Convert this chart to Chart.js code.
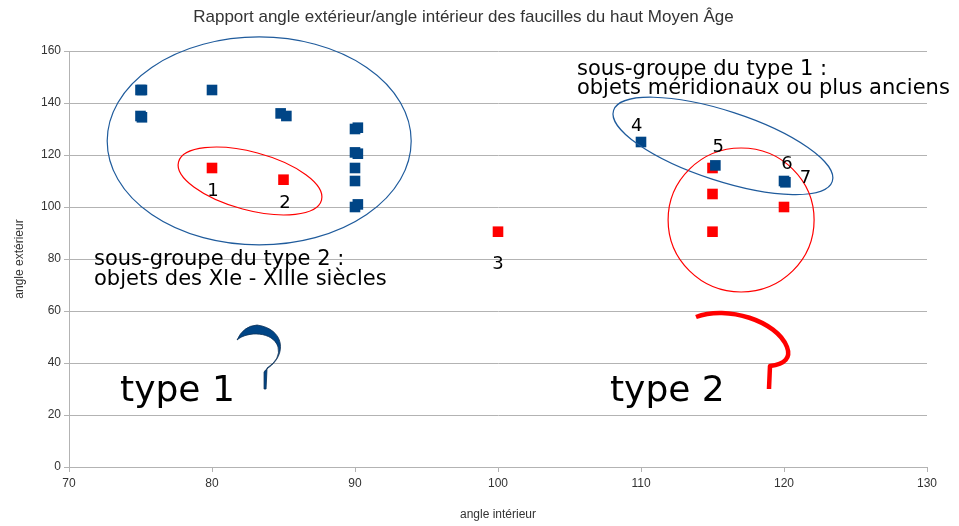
<!DOCTYPE html>
<html>
<head>
<meta charset="utf-8">
<script src="https://cdn.jsdelivr.net/npm/chart.js@4/dist/chart.umd.min.js"></script>
<style>
  html, body { margin: 0; padding: 0; background: #fff; }
  #wrap { width: 959px; height: 526px; }
</style>
</head>
<body>
<div id="wrap"><canvas id="chart" width="959" height="526"></canvas></div>
<script>
// values
const xTicks = [70, 80, 90, 100, 110, 120, 130];
const yTicks = [0, 20, 40, 60, 80, 100, 120, 140, 160];

// type 1 (blue)
const type1X = [75, 75.1, 75, 75.1, 80, 84.8, 85.2, 90, 90.2, 90, 90.2, 90, 90, 90, 90.2, 110, 115.2, 120, 120.1];
const type1Y = [145, 145, 135, 134.5, 145, 136, 135, 130, 130.5, 121, 120.5, 115, 110, 100, 101, 125, 116, 110, 109.5];

// type 2 (red)
const type2X = [80, 85, 100, 115, 115, 115, 120];
const type2Y = [115, 110.5, 90.5, 115, 105, 90.5, 100];

const BLUE = '#004586';
const RED = '#ff0000';

// annotations: centres in data units, sizes in pixels
const ellipses = [
  { x: 83.3, y: 125.4, rx: 152, ry: 104, rot: 0, color: '#1f5b9c' },
  { x: 82.66, y: 110, rx: 74, ry: 29, rot: 15, color: RED },
  { x: 115.73, y: 123.5, rx: 115, ry: 35, rot: 18, color: '#1f5b9c' },
  { x: 117.0, y: 95, rx: 73, ry: 72, rot: 0, color: RED }
];
const notes = [
  { text: 'sous-groupe du type 1 :', x: 105.52, y: 153.0, size: 21, align: 'left' },
  { text: 'objets méridionaux ou plus anciens', x: 105.52, y: 145.4, size: 21, align: 'left' },
  { text: 'sous-groupe du type 2 :', x: 71.75, y: 79.8, size: 21, align: 'left' },
  { text: 'objets des XIe - XIIIe siècles', x: 71.75, y: 72.2, size: 21, align: 'left' },
  { text: 'type 1', x: 73.57, y: 28.8, size: 36, align: 'left' },
  { text: 'type 2', x: 107.83, y: 28.8, size: 36, align: 'left' },
  { text: '1', x: 80.07, y: 106.2, size: 18, align: 'center' },
  { text: '2', x: 85.1, y: 101.5, size: 18, align: 'center' },
  { text: '3', x: 100, y: 78, size: 18, align: 'center' },
  { text: '4', x: 109.7, y: 131.2, size: 18, align: 'center' },
  { text: '5', x: 115.4, y: 123.1, size: 18, align: 'center' },
  { text: '6', x: 120.2, y: 116.5, size: 18, align: 'center' },
  { text: '7', x: 121.5, y: 111.2, size: 18, align: 'center' }
];
const hooks = [
  { x: 83.71, y: 30, color: BLUE, kind: 'filled' },
  { x: 118.95, y: 30, color: RED, kind: 'stroke' }
];

const annotate = {
  id: 'annotate',
  afterDatasetsDraw(chart) {
    const { ctx, scales: { x, y } } = chart;
    ctx.save();
    // ellipses
    ellipses.forEach(e => {
      ctx.beginPath();
      ctx.ellipse(x.getPixelForValue(e.x), y.getPixelForValue(e.y), e.rx, e.ry, e.rot * Math.PI / 180, 0, Math.PI * 2);
      ctx.strokeStyle = e.color;
      ctx.lineWidth = 1.2;
      ctx.stroke();
    });
    // sickle sketches
    hooks.forEach(h => {
      const px = x.getPixelForValue(h.x), py = y.getPixelForValue(h.y);
      ctx.save();
      ctx.translate(px, py);
      ctx.beginPath();
      if (h.kind === 'filled') {
        ctx.moveTo(-1, 0);
        ctx.lineTo(-1, -17);
        ctx.quadraticCurveTo(0, -19, 3, -21);
        ctx.bezierCurveTo(22, -34, 20, -60, -8, -64);
        ctx.quadraticCurveTo(-22, -63, -28, -49);
        ctx.bezierCurveTo(-18, -58, 8, -58, 13, -42);
        ctx.quadraticCurveTo(16, -30, 2, -21);
        ctx.lineTo(1, 0);
        ctx.closePath();
        ctx.fillStyle = h.color;
        ctx.fill();
        ctx.strokeStyle = '#0a2f55';
        ctx.lineWidth = 0.8;
        ctx.stroke();
      } else {
        ctx.moveTo(-73, -72);
        ctx.bezierCurveTo(-42, -84, 8, -68, 18, -42);
        ctx.quadraticCurveTo(24, -26, 1, -23);
        ctx.lineTo(0, 0);
        ctx.strokeStyle = h.color;
        ctx.lineWidth = 4.5;
        ctx.lineJoin = 'round';
        ctx.stroke();
      }
      ctx.restore();
    });
    // labels
    ctx.fillStyle = '#000';
    ctx.textBaseline = 'middle';
    notes.forEach(n => {
      ctx.font = n.size + 'px "DejaVu Sans"';
      ctx.textAlign = n.align;
      ctx.fillText(n.text, x.getPixelForValue(n.x), y.getPixelForValue(n.y));
    });
    ctx.restore();
  }
};

const toPoints = (xs, ys) => xs.map((v, i) => ({ x: v, y: ys[i] }));

new Chart(document.getElementById('chart'), {
  type: 'scatter',
  data: {
    datasets: [
      { label: 'type 1', data: toPoints(type1X, type1Y), backgroundColor: BLUE, borderColor: BLUE, pointStyle: 'rect', pointRadius: 7.5, borderWidth: 0 },
      { label: 'type 2', data: toPoints(type2X, type2Y), backgroundColor: RED, borderColor: RED, pointStyle: 'rect', pointRadius: 7.5, borderWidth: 0 }
    ]
  },
  options: {
    responsive: false,
    animation: false,
    layout: { padding: { left: 0, right: 32, top: 0, bottom: 0 } },
    plugins: {
      legend: { display: false },
      tooltip: { enabled: false },
      title: {
        display: true,
        text: 'Rapport angle extérieur/angle intérieur des faucilles du haut Moyen Âge',
        color: '#333',
        font: { family: '"Liberation Sans", Arial', size: 17, weight: 'normal' },
        padding: { top: 7, bottom: 23.6 }
      }
    },
    scales: {
      x: {
        type: 'linear', min: 70, max: 130,
        afterBuildTicks: s => { s.ticks = xTicks.map(v => ({ value: v })); },
        afterFit: s => { s.height = 59; },
        ticks: { color: '#333', font: { family: '"Liberation Sans", Arial', size: 12 }, padding: 4 },
        grid: { drawOnChartArea: false, color: '#b3b3b3', tickLength: 5 },
        border: { color: '#b3b3b3' },
        title: { display: true, text: 'angle intérieur', color: '#333', font: { family: '"Liberation Sans", Arial', size: 12 }, padding: { top: 11 } }
      },
      y: {
        type: 'linear', min: 0, max: 160,
        afterBuildTicks: s => { s.ticks = yTicks.map(v => ({ value: v })); },
        afterFit: s => { s.width = 69; },
        ticks: { color: '#333', font: { family: '"Liberation Sans", Arial', size: 12 }, padding: 3 },
        grid: { color: '#b3b3b3', tickLength: 5 },
        border: { color: '#b3b3b3' },
        title: { display: true, text: 'angle extérieur', color: '#333', font: { family: '"Liberation Sans", Arial', size: 12 }, padding: { top: 12, bottom: 4 } }
      }
    }
  },
  plugins: [annotate]
});
</script>
</body>
</html>
